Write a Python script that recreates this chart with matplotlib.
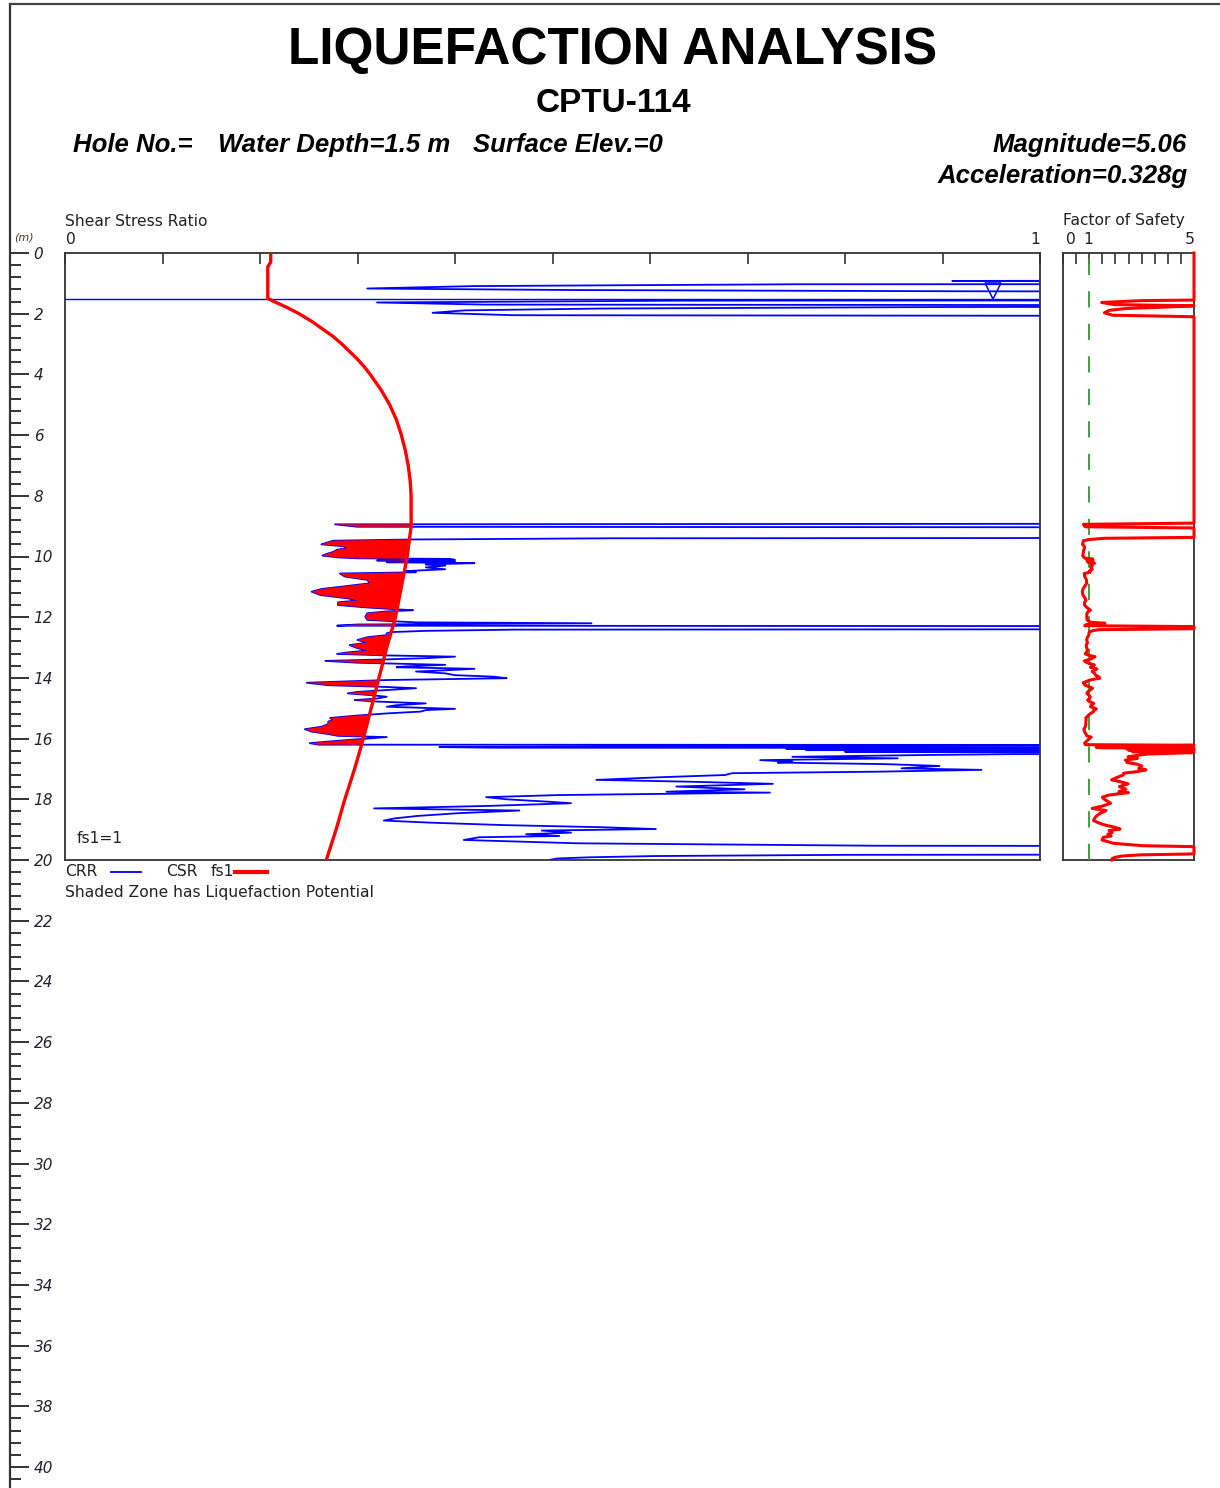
import numpy as np
import matplotlib
matplotlib.use("Agg")
import matplotlib.pyplot as plt
from matplotlib.lines import Line2D
from matplotlib.ticker import FixedLocator

# chart values
# CSR (fs1) curve: depth (m), cyclic stress ratio
csr_depth = [0.0, 0.3, 0.45, 1.5, 1.8, 2.0, 2.25, 2.5, 2.75, 3.0, 3.25, 3.5, 3.75, 4.0,
             4.5, 5.0, 5.5, 6.0, 6.5, 7.0, 7.5, 8.0, 9.0, 10.0, 11.0, 12.0, 13.0, 14.0,
             15.0, 16.0, 17.0, 18.0, 19.0, 20.0]
csr_value = [0.211, 0.211, 0.208, 0.208, 0.228, 0.240, 0.253, 0.264, 0.275, 0.284, 0.292,
             0.300, 0.307, 0.313, 0.324, 0.333, 0.340, 0.345, 0.349, 0.352, 0.354, 0.355,
             0.355, 0.351, 0.345, 0.339, 0.330, 0.322, 0.314, 0.306, 0.297, 0.287, 0.278,
             0.268]

# CRR trace: depth (m), cyclic resistance ratio (values past 1 run off the chart)
crr_depth = [0.00, 0.88, 0.92, 0.96, 1.02, 1.03, 1.09, 1.17, 1.22, 1.26, 1.31, 1.55, 1.57,
             1.63, 1.70, 1.74, 1.78, 1.83, 1.89, 1.97, 2.05, 2.10,
             8.90, 8.94, 9.02, 9.06, 9.37, 9.40, 9.44, 9.48, 9.53, 9.60, 9.66, 9.72, 9.78,
             9.85, 9.92, 9.97, 10.03, 10.06, 10.08, 10.11, 10.13, 10.16, 10.19, 10.22, 10.26,
             10.30, 10.36, 10.42, 10.48, 10.52, 10.56, 10.66, 10.77, 10.88, 10.99, 11.07,
             11.16, 11.27, 11.38, 11.45, 11.51, 11.60, 11.68, 11.74, 11.77, 11.81, 11.87,
             11.98, 12.09, 12.17, 12.20, 12.24, 12.28, 12.31, 12.38, 12.41, 12.45, 12.49,
             12.53, 12.59, 12.66, 12.75, 12.84, 12.92, 13.02, 13.10, 13.16, 13.21, 13.26,
             13.30, 13.35, 13.39, 13.44, 13.50, 13.57, 13.62, 13.65, 13.70, 13.75, 13.79,
             13.85, 13.91, 13.96, 14.01, 14.07, 14.16, 14.24, 14.30, 14.34, 14.40, 14.46,
             14.51, 14.56, 14.62, 14.68, 14.73, 14.78, 14.84, 14.90, 14.95, 15.02, 15.06,
             15.11, 15.17, 15.24, 15.32, 15.38, 15.44, 15.52, 15.61, 15.69, 15.77, 15.85,
             15.91, 15.95, 16.00, 16.04, 16.10, 16.15, 16.20, 16.22, 16.25, 16.28, 16.30,
             16.32, 16.34, 16.36, 16.38, 16.40, 16.43, 16.46, 16.51, 16.54, 16.60, 16.65,
             16.71, 16.76, 16.79, 16.84, 16.90, 16.98, 17.03, 17.09, 17.14, 17.20, 17.27,
             17.36, 17.42, 17.49, 17.58, 17.67, 17.75, 17.78, 17.86, 17.93, 18.00, 18.08,
             18.13, 18.22, 18.30, 18.37, 18.46, 18.55, 18.63, 18.70, 18.77, 18.85, 18.92,
             18.98, 19.03, 19.10, 19.15, 19.21, 19.25, 19.34, 19.45, 19.53, 19.56, 19.80,
             19.83, 19.87, 19.91, 19.95, 19.99]
crr_value = [2.0, 2.0, 0.91, 2.0, 2.0, 0.75, 0.42, 0.31, 0.52, 0.91, 2.0, 2.0, 0.63,
             0.32, 0.43, 2.0, 0.90, 0.55, 0.41, 0.377, 0.46, 2.0,
             2.0, 0.277, 0.30, 2.0, 2.0, 0.56, 0.354, 0.275, 0.270, 0.263, 0.285, 0.29, 0.279,
             0.275, 0.268, 0.264, 0.28, 0.30, 0.395, 0.40, 0.32, 0.40, 0.33, 0.42, 0.37,
             0.39, 0.37, 0.39, 0.35, 0.36, 0.282, 0.287, 0.31, 0.313, 0.285, 0.263,
             0.253, 0.262, 0.29, 0.30, 0.28, 0.28, 0.31, 0.34, 0.357, 0.33, 0.31,
             0.308, 0.31, 0.36, 0.54, 0.30, 0.279, 2.0, 2.0, 0.46, 0.37, 0.335,
             0.33, 0.33, 0.31, 0.30, 0.31, 0.292, 0.30, 0.31, 0.29, 0.279, 0.33,
             0.40, 0.37, 0.33, 0.267, 0.30, 0.39, 0.35, 0.34, 0.42, 0.39, 0.36,
             0.39, 0.40, 0.44, 0.453, 0.33, 0.248, 0.27, 0.33, 0.36, 0.33, 0.30,
             0.29, 0.31, 0.33, 0.32, 0.297, 0.32, 0.37, 0.34, 0.33, 0.40, 0.37,
             0.365, 0.33, 0.30, 0.272, 0.275, 0.27, 0.27, 0.263, 0.246, 0.253, 0.27,
             0.28, 0.33, 0.31, 0.292, 0.27, 0.251, 0.26, 2.0, 0.69, 0.384, 0.44,
             2.0, 0.74, 2.0, 0.76, 2.0, 0.80, 2.0, 0.974, 0.883, 0.746, 0.854,
             0.713, 0.746, 0.731, 0.84, 0.897, 0.858, 0.94, 0.833, 0.684, 0.677, 0.613,
             0.545, 0.64, 0.726, 0.627, 0.697, 0.617, 0.723, 0.507, 0.432, 0.453, 0.496,
             0.519, 0.432, 0.317, 0.466, 0.402, 0.361, 0.338, 0.327, 0.375, 0.45, 0.551,
             0.606, 0.489, 0.519, 0.473, 0.507, 0.425, 0.409, 0.526, 0.833, 2.0, 2.0,
             0.801, 0.604, 0.539, 0.505, 0.498]

water_depth = 1.5
fs_max = 5.0

W, H = 1220, 1488
def fx(x):
    return x / W
def fy(y):
    return 1 - y / H

fig = plt.figure(figsize=(W / 100, H / 100), dpi=100)
fig.patch.set_facecolor('white')

crr_d = np.array(crr_depth)
crr_v = np.array(crr_value)
csr_at_crr = np.interp(crr_d, csr_depth, csr_value)

# main shear stress ratio panel
ax = fig.add_axes([fx(65), fy(860), fx(975), 607 / H])
ax.set_xlim(0, 1)
ax.set_ylim(20, 0)
ax.plot(crr_v, crr_d, color='#0000ff', lw=1.3, zorder=2)
ax.fill_betweenx(crr_d, crr_v, csr_at_crr, where=crr_v < csr_at_crr,
                 interpolate=True, color='#ff0000', lw=0, zorder=3)
ax.plot(csr_value, csr_depth, color='#ff0000', lw=2.4, zorder=4)
ax.axhline(water_depth, color='#0000ff', lw=1.0, zorder=2)
ax.plot([0.952], [1.24], marker='v', ms=12, mfc='none', mec='#0000ff', mew=1.1, zorder=5)
ax.text(0.012, 19.3, 'fs1=1', fontsize=11.2, va='center', ha='left', color='#222222')
ax.set_xticks(np.arange(0, 1.01, 0.1))
ax.set_xticklabels([])
ax.set_yticks([])
ax.xaxis.tick_top()
ax.tick_params(axis='x', direction='in', length=8, width=1.2, color='#333333')
for s in ax.spines.values():
    s.set_color('#333333')
    s.set_linewidth(1.3)

# factor of safety panel
fs = np.minimum(crr_v / csr_at_crr, fs_max)
fs[crr_d < water_depth] = fs_max
ax2 = fig.add_axes([fx(1063), fy(860), fx(131), 607 / H])
ax2.set_xlim(0, fs_max)
ax2.set_ylim(20, 0)
ax2.plot(np.append(fs, fs[-1]), np.append(crr_d, 20), color='#ff0000', lw=2.2,
         clip_on=False, zorder=4)
ax2.axvline(1, color='#2e9a2e', lw=1.3, dashes=(9, 9), zorder=3)
ax2.set_xticks(np.arange(0, 5.01, 0.5))
ax2.set_xticklabels([])
ax2.set_yticks([])
ax2.xaxis.tick_top()
ax2.tick_params(axis='x', direction='in', length=8, width=1.2, color='#333333')
for s in ax2.spines.values():
    s.set_color('#333333')
    s.set_linewidth(1.3)

# depth scale on the left edge
axd = fig.add_axes([0, 0, fx(10), fy(4)])
axd.set_ylim((H - 253) / 30.35, -249 / 30.35)
axd.set_xticks([])
for k in ['left', 'top', 'bottom']:
    axd.spines[k].set_visible(False)
axd.spines['right'].set_linewidth(1.6)
axd.spines['right'].set_color('#333333')
axd.patch.set_alpha(0)
axd.yaxis.tick_right()
axd.yaxis.set_major_locator(FixedLocator(np.arange(0, 41, 2)))
axd.yaxis.set_minor_locator(FixedLocator(np.arange(0, 40.8, 0.4)))
axd.tick_params(axis='y', which='major', direction='out', length=14, width=1.4,
                color='#333333', pad=3, labelsize=11, labelcolor='#222233')
axd.tick_params(axis='y', which='minor', direction='out', length=8, width=1.4,
                color='#333333')
for lab in axd.get_yticklabels():
    lab.set_fontstyle('italic')

# page frame line at the top
fig.add_artist(Line2D([fx(10), 1], [fy(4), fy(4)], transform=fig.transFigure,
                      color='#444444', lw=1.6))

# headings
bold = dict(family='Liberation Sans', fontweight='bold', color='black')
fig.text(fx(613), fy(50), 'LIQUEFACTION ANALYSIS', ha='center', va='center', fontsize=37, **bold)
fig.text(fx(613), fy(103), 'CPTU-114', ha='center', va='center', fontsize=24, **bold)
fig.text(fx(73), fy(145), 'Hole No.=', ha='left', va='center', fontsize=18.5, style='italic', **bold)
fig.text(fx(218), fy(145), 'Water Depth=1.5 m', ha='left', va='center', fontsize=18.5, style='italic', **bold)
fig.text(fx(473), fy(145), 'Surface Elev.=0', ha='left', va='center', fontsize=18.5, style='italic', **bold)
fig.text(fx(1187), fy(145), 'Magnitude=5.06', ha='right', va='center', fontsize=18.5, style='italic', **bold)
fig.text(fx(1188), fy(176), 'Acceleration=0.328g', ha='right', va='center', fontsize=18.5, style='italic', **bold)

small = dict(fontsize=11.2, color='#222222', va='center')
fig.text(fx(65), fy(221), 'Shear Stress Ratio', ha='left', **small)
fig.text(fx(71), fy(239), '0', ha='center', **small)
fig.text(fx(1035), fy(239), '1', ha='center', **small)
fig.text(fx(1063), fy(221), 'Factor of Safety', ha='left', **small)
fig.text(fx(1071), fy(239), '0', ha='center', **small)
fig.text(fx(1088), fy(239), '1', ha='center', **small)
fig.text(fx(1190), fy(239), '5', ha='center', **small)
fig.text(fx(24), fy(238), '(m)', ha='center', va='center', fontsize=8, style='italic', color='#4a3a2a')

# legend under the plot
fig.text(fx(65), fy(872), 'CRR', ha='left', **small)
fig.add_artist(Line2D([fx(111), fx(141)], [fy(872), fy(872)], transform=fig.transFigure,
                      color='#0000ff', lw=1.3))
fig.text(fx(166), fy(872), 'CSR', ha='left', **small)
fig.text(fx(211), fy(872), 'fs1', ha='left', **small)
fig.add_artist(Line2D([fx(235), fx(267)], [fy(872), fy(872)], transform=fig.transFigure,
                      color='#ff0000', lw=3))
fig.text(fx(65), fy(892), 'Shaded Zone has Liquefaction Potential', ha='left', **small)

fig.savefig('out.png', dpi=100, facecolor='white')
